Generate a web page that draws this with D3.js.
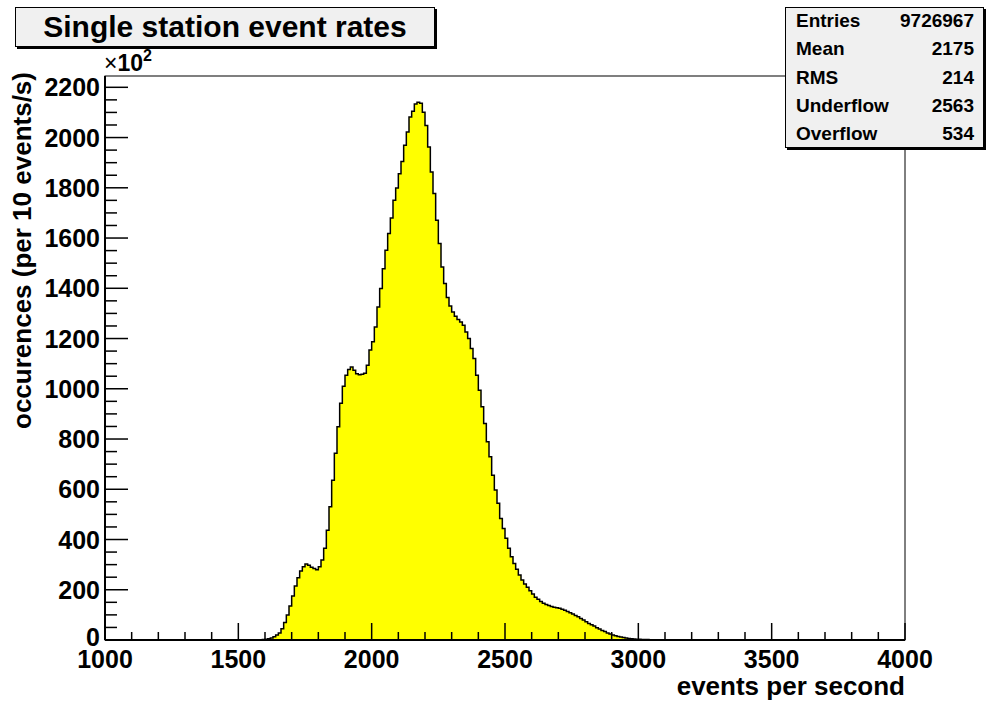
<!DOCTYPE html>
<html>
<head>
<meta charset="utf-8">
<script src="https://cdn.jsdelivr.net/npm/d3@7"></script>
<style>
  body { margin: 0; background: #fff; }
  svg text { font-family: "Liberation Sans", Arial, Helvetica, sans-serif; font-weight: bold; }
</style>
</head>
<body>
<svg id="chart"></svg>
<script>
// histogram: bins of 10 events/s, first non-empty bin starts at 1580
const binLow = 1580;
const binWidth = 10;
const counts = [
  1, 2, 3, 5, 8, 13, 20, 28, 45, 70,
  100, 135, 175, 215, 248, 275, 292, 303, 298, 290,
  285, 280, 292, 318, 365, 437, 530, 636, 743, 849,
  942, 1010, 1054, 1077, 1087, 1074, 1060, 1056, 1058, 1062,
  1094, 1154, 1187, 1246, 1326, 1399, 1478, 1551, 1618, 1680,
  1750, 1799, 1856, 1905, 1969, 2022, 2082, 2105, 2134, 2141,
  2137, 2101, 2048, 1962, 1863, 1777, 1671, 1578, 1485, 1419,
  1363, 1329, 1306, 1289, 1276, 1266, 1253, 1226, 1200, 1160,
  1121, 1054, 994, 928, 862, 789, 729, 656, 597, 544,
  484, 444, 405, 365, 331, 305, 282, 259, 239, 223,
  210, 196, 183, 170, 162, 153, 146, 141, 137, 133,
  130, 128, 126, 122, 118, 113, 108, 103, 98, 93,
  86, 80, 73, 66, 61, 56, 49, 44, 38, 34,
  28, 24, 20, 17, 14, 12, 10, 8, 6, 5,
  4, 3, 3, 2, 2, 2, 1, 1, 1, 1,
  1, 1, 0.8, 0.8, 0.6, 0.6, 0.5, 0.5, 0.4, 0.4,
  0.3, 0.3, 0.2, 0.2, 0.2, 0.1, 0.1, 0.1
];
const xDomain = [1000, 4000];
const yDomain = [0, 2245];
const xTickLabels = [1000, 1500, 2000, 2500, 3000, 3500, 4000];
const yTickLabels = [0, 200, 400, 600, 800, 1000, 1200, 1400, 1600, 1800, 2000, 2200];
const statNames = ["Entries", "Mean", "RMS", "Underflow", "Overflow"];
const statValues = ["9726967", "2175", "214", "2563", "534"];

const W = 986, H = 701;
const plot = { left: 105, right: 905, top: 76, bottom: 640 };

const svg = d3.select("#chart").attr("width", W).attr("height", H);

const x = d3.scaleLinear().domain(xDomain).range([plot.left, plot.right]);
const y = d3.scaleLinear().domain(yDomain).range([plot.bottom, plot.top]);

// histogram bins
const bins = counts.map((c, i) => ({ x0: binLow + i * binWidth, v: c }));
bins.push({ x0: binLow + counts.length * binWidth, v: 0 });

const area = d3.area()
    .curve(d3.curveStepAfter)
    .x(d => x(d.x0))
    .y0(y(0))
    .y1(d => y(d.v));

svg.append("path")
    .datum(bins)
    .attr("d", area)
    .attr("fill", "#ffff00")
    .attr("stroke", "none");

const line = d3.line()
    .curve(d3.curveStepAfter)
    .x(d => x(d.x0))
    .y(d => y(d.v));

svg.append("path")
    .datum(bins)
    .attr("d", line)
    .attr("fill", "none")
    .attr("stroke", "#000")
    .attr("stroke-width", 1.5);

// frame
svg.append("rect")
    .attr("x", plot.left).attr("y", plot.top)
    .attr("width", plot.right - plot.left).attr("height", plot.bottom - plot.top)
    .attr("fill", "none").attr("stroke", "#000").attr("stroke-width", 1);

// x axis (ticks inside, pointing up)
const xMinor = d3.range(1000, 4001, 100);
svg.append("g")
    .selectAll("line")
    .data(xMinor)
    .enter()
    .append("line")
    .attr("x1", d => x(d)).attr("x2", d => x(d))
    .attr("y1", plot.bottom)
    .attr("y2", d => plot.bottom - (d % 500 === 0 ? 17 : 8))
    .attr("stroke", "#000").attr("stroke-width", 1.5);

svg.append("line")
    .attr("x1", plot.left).attr("x2", plot.right)
    .attr("y1", plot.bottom).attr("y2", plot.bottom)
    .attr("stroke", "#000").attr("stroke-width", 2);

svg.append("g")
    .selectAll("text")
    .data(xTickLabels)
    .enter()
    .append("text")
    .attr("x", d => x(d))
    .attr("y", 668)
    .attr("text-anchor", "middle")
    .style("font-size", "25px")
    .text(d => d);

svg.append("text")
    .attr("x", plot.right)
    .attr("y", 695)
    .attr("text-anchor", "end")
    .style("font-size", "26px")
    .text("events per second");

// y axis
const yMinor = d3.range(0, 2245, 50);
svg.append("g")
    .selectAll("line")
    .data(yMinor)
    .enter()
    .append("line")
    .attr("y1", d => y(d)).attr("y2", d => y(d))
    .attr("x1", plot.left)
    .attr("x2", d => plot.left + (d % 200 === 0 ? 23 : 12))
    .attr("stroke", "#000").attr("stroke-width", 1.5);

svg.append("line")
    .attr("x1", plot.left).attr("x2", plot.left)
    .attr("y1", plot.top).attr("y2", plot.bottom)
    .attr("stroke", "#000").attr("stroke-width", 2);

svg.append("g")
    .selectAll("text")
    .data(yTickLabels)
    .enter()
    .append("text")
    .attr("x", 100)
    .attr("y", d => y(d))
    .attr("dy", d => d === 0 ? "0.24em" : "0.36em")
    .attr("text-anchor", "end")
    .style("font-size", "25px")
    .text(d => d);

svg.append("text")
    .attr("transform", "translate(31," + 72 + ") rotate(-90)")
    .attr("text-anchor", "end")
    .style("font-size", "26px")
    .text("occurences (per 10 events/s)");

// exponent
const expo = svg.append("text")
    .attr("x", 104)
    .attr("y", 71)
    .style("font-size", "23px");
expo.append("tspan").style("font-weight", "normal").text("\u00d7");
expo.append("tspan").text("10");
expo.append("tspan").attr("dy", -10).style("font-size", "16px").text("2");

// title box
svg.append("rect")
    .attr("x", 17).attr("y", 9).attr("width", 420).attr("height", 40)
    .attr("fill", "#000");
svg.append("rect")
    .attr("x", 15.5).attr("y", 7.5).attr("width", 419).attr("height", 39)
    .attr("fill", "#f0f0f0").attr("stroke", "#000").attr("stroke-width", 1);
svg.append("text")
    .attr("x", 225)
    .attr("y", 37)
    .attr("text-anchor", "middle")
    .style("font-size", "30px")
    .text("Single station event rates");

// stats box
svg.append("rect")
    .attr("x", 787).attr("y", 9).attr("width", 199).attr("height", 141)
    .attr("fill", "#000");
svg.append("rect")
    .attr("x", 785.5).attr("y", 7.5).attr("width", 198).attr("height", 140)
    .attr("fill", "#f0f0f0").attr("stroke", "#000").attr("stroke-width", 1);

const stats = svg.append("g");
stats.selectAll(".sname")
    .data(statNames)
    .enter()
    .append("text")
    .attr("class", "sname")
    .attr("x", 796)
    .attr("y", (d, i) => 27 + i * 28.3)
    .style("font-size", "19px")
    .text(d => d);
stats.selectAll(".sval")
    .data(statValues)
    .enter()
    .append("text")
    .attr("class", "sval")
    .attr("x", 974)
    .attr("y", (d, i) => 27 + i * 28.3)
    .attr("text-anchor", "end")
    .style("font-size", "19px")
    .text(d => d);
</script>
</body>
</html>
